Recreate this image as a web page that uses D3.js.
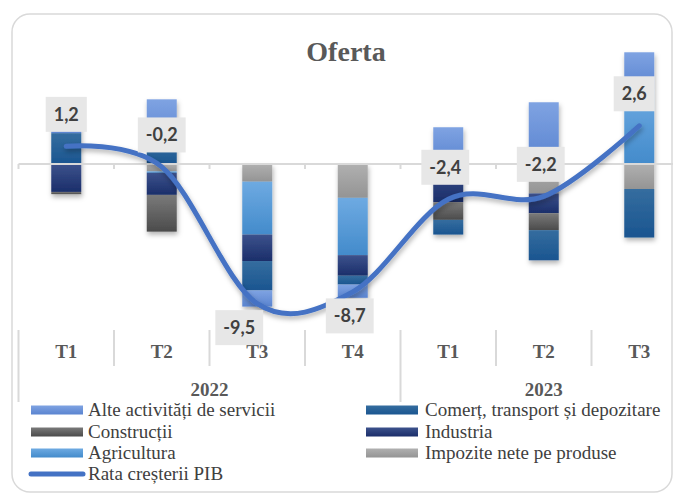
<!DOCTYPE html>
<html lang="ro">
<head>
<meta charset="UTF-8">
<title>Oferta</title>
<script src="https://cdn.jsdelivr.net/npm/d3@7"></script>
<style>
  body { margin: 0; background: #fff; }
</style>
</head>
<body>
<script>

// date
var quarters = ["T1", "T2", "T3", "T4", "T1", "T2", "T3"];
var years = ["2022", "2022", "2022", "2022", "2023", "2023", "2023"];

var alte        = [1.1, 3.1, -1.1, -0.9, 2.5, 4.2, 2.5];
var comert      = [2.1, 1.3, -2.0, -0.6, -1.0, -2.05, -3.3];
var constructii = [-0.15, -2.5, 0, 0, -1.2, -1.15, 0];
var industria   = [-1.9, -1.5, -1.8, -1.4, -2.6, -1.35, 0];
var agricultura = [0, -0.1, -3.6, -3.9, 0, 0, 5.1];
var impozite    = [0, -0.5, -1.2, -2.3, 0, -2.0, -1.7];
var pib         = [1.2, -0.2, -9.5, -8.7, -2.4, -2.2, 2.6];

var seriesNames = ["Alte activități de servicii", "Comerț, transport și depozitare",
                   "Construcții", "Industria", "Agricultura", "Impozite nete pe produse"];
var seriesValues = [alte, comert, constructii, industria, agricultura, impozite];
var lineName = "Rata creșterii PIB";

// culori (sus / jos pentru gradient)
var colors = [
    ["#7fa3e2", "#5a84d0"],
    ["#356d9f", "#1a5590"],
    ["#7a7a7a", "#4b4b4b"],
    ["#3c528c", "#1b2e6a"],
    ["#6eaae2", "#438bcb"],
    ["#b0b0b0", "#949494"]
];

var width = 673, height = 493;

var svg = d3.select("body")
    .append("svg")
    .attr("width", width)
    .attr("height", height)
    .style("font-family", "'Liberation Serif', serif");

var defs = svg.append("defs");

colors.forEach(function (c, i) {
    var g = defs.append("linearGradient")
        .attr("id", "grad" + i)
        .attr("x1", 0).attr("y1", 0).attr("x2", 0).attr("y2", 1);
    g.append("stop").attr("offset", "0%").attr("stop-color", c[0]);
    g.append("stop").attr("offset", "100%").attr("stop-color", c[1]);
});

defs.append("filter").attr("id", "shadow")
    .attr("x", "-30%").attr("y", "-30%").attr("width", "160%").attr("height", "160%")
    .append("feDropShadow")
    .attr("dx", 1).attr("dy", 3).attr("stdDeviation", 2.5)
    .attr("flood-color", "#000").attr("flood-opacity", 0.3);

// chenar
svg.append("rect")
    .attr("x", 12).attr("y", 14)
    .attr("width", 660).attr("height", 478)
    .attr("rx", 18)
    .attr("fill", "none")
    .attr("stroke", "#d9d9d9")
    .attr("stroke-width", 1.5);

// titlu
svg.append("text")
    .attr("x", 346).attr("y", 61)
    .attr("text-anchor", "middle")
    .attr("font-size", "28px")
    .attr("font-weight", "bold")
    .attr("fill", "#595959")
    .text("Oferta");

// scale
var x = d3.scaleBand()
    .domain(d3.range(quarters.length))
    .range([18.5, 687])
    .paddingInner(0.686)
    .paddingOuter(0.343);

var y = d3.scaleLinear()
    .domain([-11, 7.5])
    .range([325.7, 53.75]);

// stivuire
var rows = quarters.map(function (q, i) {
    var r = {};
    seriesNames.forEach(function (n, k) { r[n] = seriesValues[k][i]; });
    return r;
});
var stackOrder = seriesNames.slice().reverse();
var stacked = d3.stack()
    .keys(stackOrder)
    .offset(d3.stackOffsetDiverging)(rows);

var bars = svg.append("g").attr("filter", "url(#shadow)");

stacked.forEach(function (layer) {
    var idx = seriesNames.indexOf(layer.key);
    bars.selectAll(null)
        .data(layer.filter(function (d) { return d[1] - d[0] !== 0; }))
        .enter()
        .append("rect")
        .attr("x", function (d) { return x(rows.indexOf(d.data)); })
        .attr("y", function (d) { return y(Math.max(d[0], d[1])); })
        .attr("width", x.bandwidth())
        .attr("height", function (d) { return Math.abs(y(d[0]) - y(d[1])); })
        .attr("fill", "url(#grad" + idx + ")");
});

// axa la zero
var x0 = x.range()[0];
var step = x.step();
svg.append("line")
    .attr("x1", x0).attr("x2", width)
    .attr("y1", y(0)).attr("y2", y(0))
    .attr("stroke", "#d9d9d9").attr("stroke-width", 2);

svg.selectAll(".tick")
    .data(d3.range(quarters.length + 1))
    .enter()
    .append("line")
    .attr("x1", function (i) { return x0 + i * step; })
    .attr("x2", function (i) { return x0 + i * step; })
    .attr("y1", y(0)).attr("y2", y(0) + 5)
    .attr("stroke", "#d9d9d9").attr("stroke-width", 2);

// etichete axa categorii
svg.selectAll(".divider")
    .data(d3.range(quarters.length + 1))
    .enter()
    .append("line")
    .attr("x1", function (i) { return x0 + i * step; })
    .attr("x2", function (i) { return x0 + i * step; })
    .attr("y1", 330)
    .attr("y2", function (i) {
        return (i === 0 || i === quarters.length || years[i] !== years[i - 1]) ? 402 : 366;
    })
    .attr("stroke", "#d9d9d9").attr("stroke-width", 2);

svg.selectAll(".qlabel")
    .data(quarters)
    .enter()
    .append("text")
    .attr("x", function (d, i) { return x(i) + x.bandwidth() / 2; })
    .attr("y", 358)
    .attr("text-anchor", "middle")
    .attr("font-size", "19px")
    .attr("font-weight", "bold")
    .attr("fill", "#595959")
    .text(function (d) { return d; });

var yearGroups = d3.groups(d3.range(years.length), function (i) { return years[i]; });
svg.selectAll(".ylabel")
    .data(yearGroups)
    .enter()
    .append("text")
    .attr("x", function (g) {
        var first = g[1][0], last = g[1][g[1].length - 1];
        return x0 + (first + last + 1) / 2 * step;
    })
    .attr("y", 396)
    .attr("text-anchor", "middle")
    .attr("font-size", "19px")
    .attr("font-weight", "bold")
    .attr("fill", "#595959")
    .text(function (g) { return g[0]; });

// linia PIB
var line = d3.line()
    .x(function (d, i) { return x(i) + x.bandwidth() / 2; })
    .y(function (d) { return y(d); })
    .curve(d3.curveCatmullRom.alpha(0));

svg.append("path")
    .datum(pib)
    .attr("d", line)
    .attr("fill", "none")
    .attr("stroke", "#4472c4")
    .attr("stroke-width", 5)
    .attr("stroke-linecap", "round")
    .attr("filter", "url(#shadow)");

// etichete valori
var labelBelow = [false, false, true, true, false, false, false];
var labelDx = [0, 0, -18, -3, -3, -3, -5];

var labels = svg.selectAll(".vlabel")
    .data(pib)
    .enter()
    .append("g")
    .attr("transform", function (d, i) {
        var cx = x(i) + x.bandwidth() / 2 + labelDx[i];
        var cy = y(d) + (labelBelow[i] ? 24 : -32);
        return "translate(" + cx + "," + cy + ")";
    });

labels.append("rect").attr("fill", "#e7e7e7");
labels.append("text")
    .attr("text-anchor", "middle")
    .attr("y", 6.5)
    .attr("font-family", "Lato, sans-serif")
    .attr("font-size", "18px")
    .attr("font-weight", "bold")
    .attr("fill", "#404040")
    .text(function (d) { return d.toFixed(1).replace(".", ","); });

labels.each(function () {
    var g = d3.select(this);
    var w = g.select("text").node().getComputedTextLength() + 16;
    g.select("rect")
        .attr("x", -w / 2).attr("y", -17.5)
        .attr("width", w).attr("height", 35);
});

// legenda
var legendItems = seriesNames.map(function (n, i) { return { name: n, idx: i }; });
legendItems.push({ name: lineName, idx: -1 });
var rowY = [410, 432, 453, 474];
var colSwatch = [31, 366];
var colText = [88, 425];

var legend = svg.selectAll(".legend")
    .data(legendItems)
    .enter()
    .append("g")
    .attr("transform", function (d, i) {
        return "translate(0," + rowY[Math.floor(i / 2)] + ")";
    });

legend.each(function (d, i) {
    var g = d3.select(this);
    var c = i % 2;
    if (d.idx >= 0) {
        g.append("rect")
            .attr("x", colSwatch[c]).attr("y", -4.5)
            .attr("width", 52).attr("height", 9)
            .attr("fill", "url(#grad" + d.idx + ")");
    } else {
        g.append("line")
            .attr("x1", colSwatch[c]).attr("x2", colSwatch[c] + 52)
            .attr("y1", 0).attr("y2", 0)
            .attr("stroke", "#4472c4")
            .attr("stroke-width", 5)
            .attr("stroke-linecap", "round");
    }
    g.append("text")
        .attr("x", colText[c]).attr("y", 6)
        .attr("font-size", "19px")
        .attr("fill", "#404040")
        .text(d.name);
});

</script>
</body>
</html>
